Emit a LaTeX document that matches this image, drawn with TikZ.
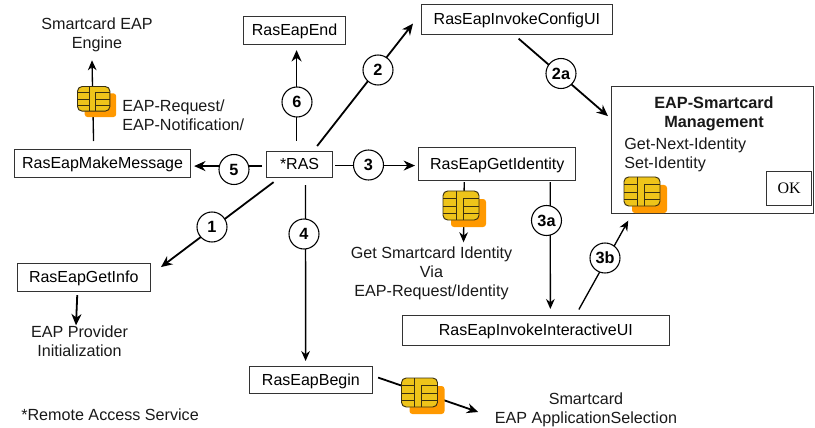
\documentclass[tikz,border=0pt]{standalone}
\usepackage{fontspec}
\setmainfont{Liberation Sans}
\newfontfamily\okfont{Liberation Serif}
\usetikzlibrary{arrows.meta,calc}
\definecolor{chipyellow}{HTML}{EEC41A}
\definecolor{chiporange}{HTML}{FF9900}
\definecolor{chipline}{HTML}{3A3010}
\definecolor{boxline}{HTML}{333333}
\tikzset{
  box/.style={draw=boxline,line width=0.85pt,fill=white,inner sep=0pt,anchor=north west,align=center,font=\fontsize{12}{14}\selectfont,text height=9.5pt,text depth=2pt},
  lbl/.style={inner sep=0pt,align=center,font=\fontsize{12.1}{14.2}\selectfont,text=black!90},
  lblleft/.style={lbl,anchor=west,align=left},
  numc/.style={circle,draw=black,line width=0.8pt,fill=white,minimum size=22.5pt,inner sep=0pt,font=\bfseries\fontsize{12.2}{14}\selectfont},
  thick arrow/.style={line width=1.35pt,-{Stealth[length=8.5pt,width=7.5pt]}},
  thin arrow/.style={line width=1pt,-{Stealth[length=7.5pt,width=6.5pt]}},
  smartchip/.pic={
    \fill[chiporange,rounded corners=2.2pt] (8,8) rectangle (43,36);
    \draw[chipline,fill=chipyellow,line width=0.7pt,rounded corners=3.5pt] (0,0) rectangle (36,29);
    \draw[chipline,line width=0.7pt] (13,0) -- (13,29) (20,29) -- (20,7) -- (36,7)
      (0,7.5) -- (13,7.5) (0,15) -- (13,15) (0,22) -- (13,22)
      (20,15) -- (36,15) (20,22) -- (36,22);
  }
}
\begin{document}
\begin{tikzpicture}[x=0.75pt,y=-0.75pt]
\useasboundingbox (0,0) rectangle (815,428);
% boxes
\node[box,minimum width=132pt,minimum height=21pt] (mm) at (14,149) {RasEapMakeMessage};
\node[box,minimum width=49.5pt,minimum height=19.5pt] (ras) at (266,151) {*RAS};
\node[box,minimum width=76.5pt,minimum height=21pt] (end) at (243,16) {RasEapEnd};
\node[box,minimum width=143pt,minimum height=22.5pt] (cfg) at (421,4) {RasEapInvokeConfigUI};
\node[box,minimum width=118pt,minimum height=24.75pt] (gid) at (418,147) {RasEapGetIdentity};
\node[box,minimum width=100pt,minimum height=21pt] (ginfo) at (16.5,263) {RasEapGetInfo};
\node[box,minimum width=200.7pt,minimum height=22.5pt] (iui) at (401.5,315) {RasEapInvokeInteractiveUI};
\node[box,minimum width=92pt,minimum height=20.25pt] (beg) at (249,366) {RasEapBegin};
\node[box,minimum width=151.5pt,minimum height=95pt] (mgmt) at (611,86) {};
\node[box,minimum width=33.75pt,minimum height=25.5pt,font=\okfont\fontsize{12}{14}\selectfont] (ok) at (766,171) {OK};
% labels
\node[lbl] (engine) at (97,34.5) {Smartcard EAP\\Engine};
\node[lblleft] (notif) at (122,115) {EAP-Request/\\EAP-Notification/};
\node[lbl] (gsi) at (431.5,273.5) {Get Smartcard Identity\\Via\\EAP-Request/Identity};
\node[lbl] (prov) at (79.5,341) {EAP Provider\\Initialization};
\node[lblleft] (remote) at (21,415) {*Remote Access Service};
\node[lbl] (appsel) at (586,410) {Smartcard\\EAP ApplicationSelection};
\node[lbl,font=\bfseries\fontsize{12.2}{14.2}\selectfont] (mtitle) at (714,113.5) {EAP-Smartcard\\Management};
\node[lblleft] (gni) at (624,155) {Get-Next-Identity\\Set-Identity};
% connectors
\draw[thick arrow] ($(ras.west)+(-4,1.5)$) -- ($(mm.east)+(3,2.5)$);
\draw[thick arrow] ($(ras.north)+(-3,-10)$) -- ($(end.south)+(2,5)$);
\draw[thick arrow] ($(ras.north east)+(-16,-5)$) -- ($(cfg.west)+(-8,4)$);
\draw[thick arrow] ($(cfg.south)+(1.7,3.5)$) -- ($(mgmt.west)+(-3,-33.8)$);
\draw[thick arrow] ($(ras.east)+(2,1)$) -- ($(gid.west)+(-3,1.5)$);
\draw[thick arrow] ($(ras.south)+(-26,4)$) -- ($(ginfo.east)+(10,-10.5)$);
\draw[thin arrow] ($(ras.south)+(6,7)$) -- ($(beg.north)+(-5.3,-5)$);
\draw[thin arrow] ($(gid.south)+(53,1)$) -- ($(iui.north)+(14.5,-6)$);
\draw[thin arrow] ($(iui.north)+(43,-5.5)$) -- ($(mgmt.south)+(-84.3,6.8)$);
\draw[thin arrow] ($(gid.south)+(-33,1)$) -- ($(gsi.north)+(32,-4.5)$);
\draw[thick arrow] ($(ginfo.south)+(-6.5,3)$) -- ($(prov.north)+(-3.5,0)$);
\draw[thick arrow] ($(beg.east)+(5.3,-2.5)$) -- ($(appsel.west)+(-16.5,2)$);
\draw[thin arrow] ($(mm.north)+(-9,-8)$) -- ($(engine.south)+(-5,8.5)$);
% number circles on the connectors
\node[numc] (n1) at (212,227) {1};
\node[numc] (n2) at (378,70) {2};
\node[numc] (n2a) at (561,73.5) {2a};
\node[numc] (n3) at (368.5,165) {3};
\node[numc] (n3a) at (546.5,220.5) {3a};
\node[numc] (n3b) at (605,258) {3b};
\node[numc] (n4) at (304,234) {4};
\node[numc] (n5) at (234,169.5) {5};
\node[numc] (n6) at (297,102) {6};
% chips
\pic[xscale=0.9,yscale=0.85] at (77.5,86.5) {smartchip};
\pic at (443,191) {smartchip};
\pic at (401.5,378) {smartchip};
\pic at (624,177) {smartchip};
\end{tikzpicture}
\end{document}
